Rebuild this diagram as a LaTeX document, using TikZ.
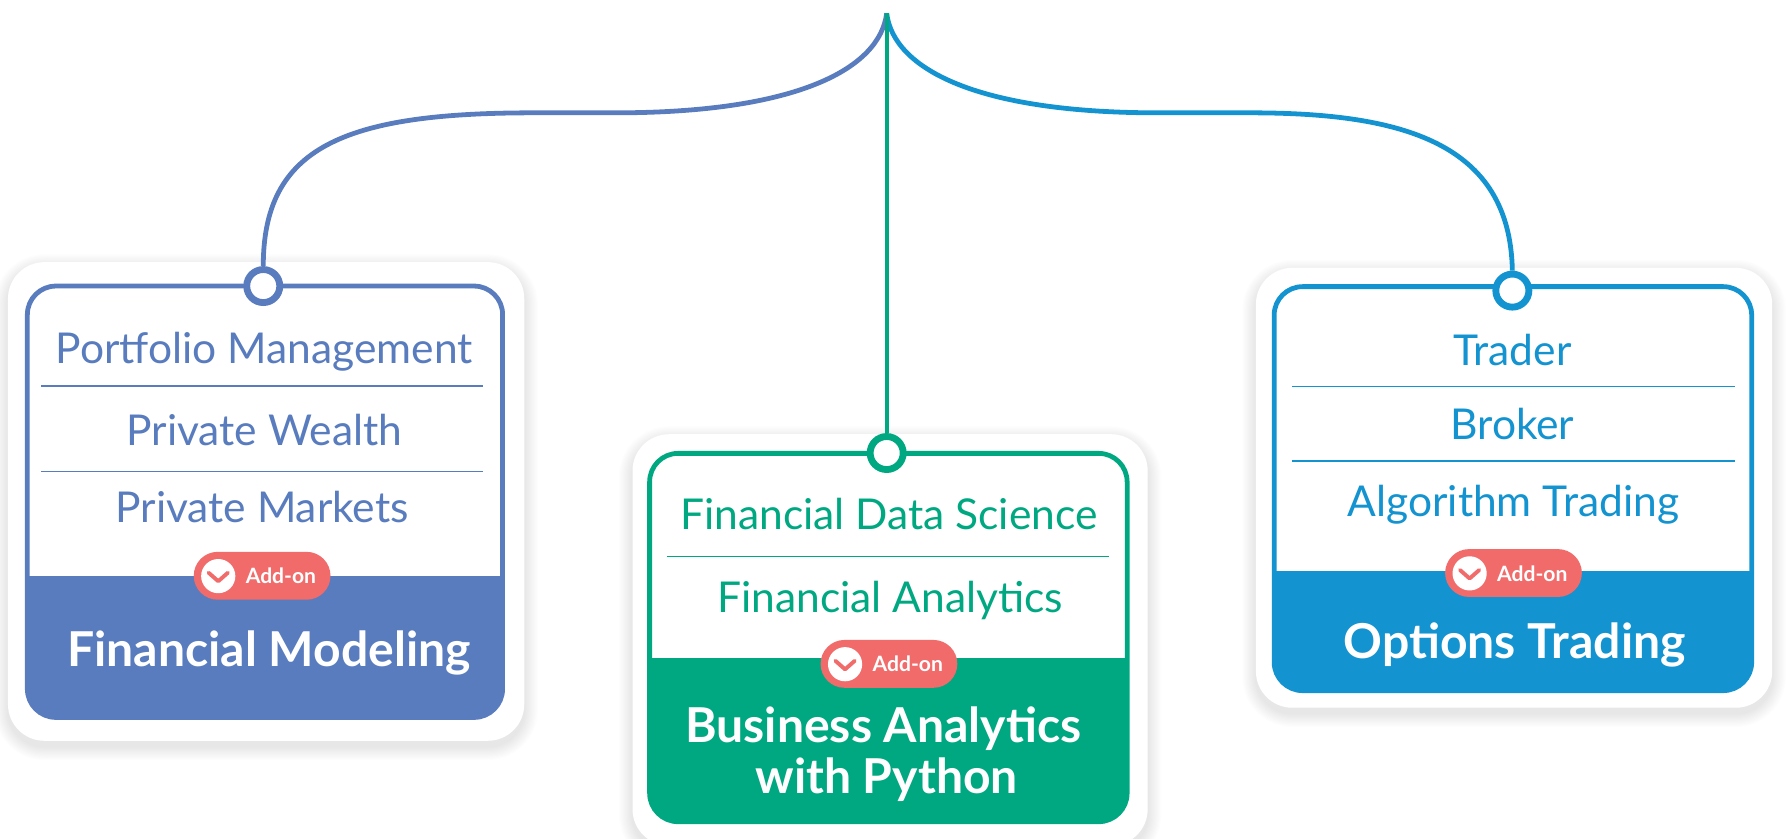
\documentclass[tikz,border=0pt]{standalone}
\usepackage{fontspec}
\setmainfont{Lato}
\definecolor{ca}{HTML}{587CBE}
\definecolor{cb}{HTML}{00A882}
\definecolor{cc}{HTML}{1393D0}
\definecolor{addon}{HTML}{F26B6B}
\pgfdeclarelayer{cardlayer}
\pgfdeclarelayer{connlayer}
\pgfsetlayers{cardlayer,connlayer,main}
\tikzset{
  item/.style={anchor=base, font=\fontsize{37.3}{41}\selectfont, inner sep=0pt},
  ttl/.style={anchor=base, font=\bfseries\fontsize{42.2}{46}\selectfont, text=white, inner sep=0pt},
  pill/.style={fill=addon, rounded corners=21pt, minimum width=120pt, minimum height=42pt, inner sep=0pt},
  addtxt/.style={font=\bfseries\fontsize{18.5}{20}\selectfont, text=white, inner sep=0pt},
  ring/.style={circle, line width=6pt, fill=white, minimum size=29pt, inner sep=0pt},
  conn/.style={line width=4.2pt},
  sep/.style={line width=1.1pt},
}
% shadow card: x1 y1 x2 y2
\newcommand{\shadowcard}[4]{%
  \foreach \i in {1,...,12}{%
    \fill[black, opacity=0.009, rounded corners=32+\i] (#1-\i,#2-\i+5) rectangle (#3+\i,#4+\i+5);
  }
  \fill[white, rounded corners=32] (#1,#2) rectangle (#3,#4);
}
% inner card: color x1 y1 x2 y2 filltop
\newcommand{\innercard}[6]{%
  \fill[white, rounded corners=25] (#2,#3) rectangle (#4,#5);
  \begin{scope}
    \clip[rounded corners=25] (#2,#3) rectangle (#4,#5);
    \fill[#1] (#2,#6) rectangle (#4,#5);
  \end{scope}
  \draw[#1, line width=4.2pt, rounded corners=25] (#2,#3) rectangle (#4,#5);
}
% chevron in white disc: cx cy
\newcommand{\chev}[2]{%
  \fill[white] (#1,#2) circle (15);
  \draw[addon, line width=3.4pt, line cap=round, line join=round] (#1-8.5,#2-3) -- (#1,#2+4.5) -- (#1+8.5,#2-3);
}
\begin{document}
\begin{tikzpicture}[x=1pt, y=-1pt]
\useasboundingbox (0,0) rectangle (1568,736);

% ---------------- cards ----------------
\begin{pgfonlayer}{cardlayer}
  % left card
  \shadowcard{7}{230}{460}{650}
  \innercard{ca}{24}{251}{441}{629.5}{505.4}
  \draw[ca, sep] (36,338.7) -- (424,338.7);
  \draw[ca, sep] (36,413.9) -- (424,413.9);
  \node[item, text=ca] (l1) at (232,319) {Portfolio Management};
  \node[item, text=ca] (l2) at (232,390.5) {Private Wealth};
  \node[item, text=ca] (l3) at (230,458.6) {Private Markets};
  \node[ttl] (lt) at (236,584.5) {Financial Modeling};
  \node[pill] (lp) at (230,505.2) {};
  \chev{191.5}{505.5}
  \node[addtxt] (la) at (246.5,505.5) {Add-on};

  % middle card
  \shadowcard{555}{381}{1007}{742}
  \innercard{cb}{570}{397.8}{989}{721}{577.6}
  \draw[cb, sep] (585,488.4) -- (973,488.4);
  \node[item, text=cb] (m1) at (780,465) {Financial Data Science};
  \node[item, text=cb] (m2) at (781,537.6) {Financial Analytics};
  \node[ttl] (mt1) at (775,651.6) {Business Analytics};
  \node[ttl] (mt2) at (778,696) {with Python};
  \node[pill] (mp) at (780,582.5) {};
  \chev{741.5}{582.8}
  \node[addtxt] (ma) at (796.5,582.8) {Add-on};

  % right card
  \shadowcard{1102}{235}{1555}{621}
  \innercard{cc}{1118}{251.5}{1537}{606}{500.7}
  \draw[cc, sep] (1134,339.3) -- (1522,339.3);
  \draw[cc, sep] (1134,404.5) -- (1522,404.5);
  \node[item, text=cc] (r1) at (1327,320.3) {Trader};
  \node[item, text=cc] (r2) at (1327,386) {Broker};
  \node[item, text=cc] (r3) at (1328,453.3) {Algorithm Trading};
  \node[ttl] (rt) at (1329,577.6) {Options Trading};
  \node[pill] (rp) at (1328,502.8) {};
  \chev{1289.5}{503.1}
  \node[addtxt] (ra) at (1344.5,503.1) {Add-on};
\end{pgfonlayer}

% ---------------- rings ----------------
\node[ring, draw=ca] (lc) at (231,251) {};
\node[ring, draw=cb] (mc) at (778,397.5) {};
\node[ring, draw=cc] (rc) at (1327,255) {};
\coordinate (top) at (778,11.7);

% ---------------- connectors ----------------
\begin{pgfonlayer}{connlayer}
  \draw[ca, conn] (top) .. controls (772,60) and (700,99) .. (540,99)
        -- (468,99) .. controls (300,99) and (231,130) .. (lc.north);
  \draw[cc, conn] (top) .. controls (784,60) and (856,99) .. (1016,99)
        -- (1097,99) .. controls (1230,99) and (1325,125) .. (rc.north);
  \draw[cb, line width=3.6pt] (top) -- (mc.north);
\end{pgfonlayer}
\end{tikzpicture}
\end{document}
